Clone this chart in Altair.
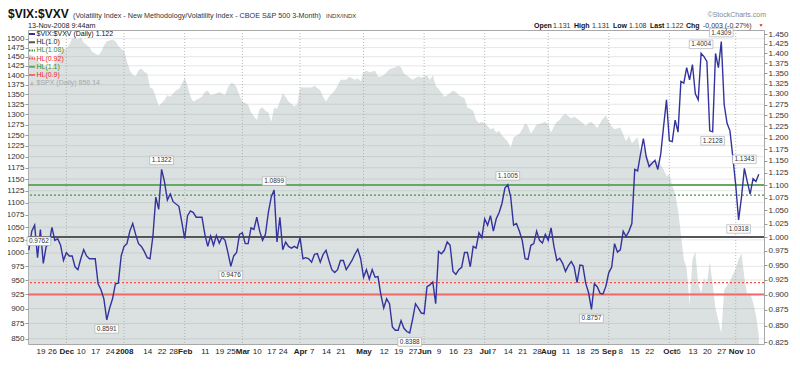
import altair as alt
import pandas as pd

# ---------------- data ----------------
# trading-day index (0 = 13-Nov-2007) and $VIX:$VXV close
ratio_day = [0,1,2,3,4,5,6,7,8,9,10,11,12,13,14,15,16,17,18,19,20,21,23,24,25,26,27,28,29,30,
             31,32,33,34,35,36,37,38,39,40,41,42,43,44,45,46,47,48,49,50,52,53,54,55,56,57,58,60,
             61,62,63,64,65,66,67,68,69,70,71,72,73,74,75,76,77,78,79,80,81,82,83,84,85,86,87,88,
             89,90,91,92,93,94,95,96,97,98,99,100,101,102,103,104,105,106,107,108,109,110,111,112,
             113,114,115,116,117,118,119,120,121,122,123,124,125,126,127,128,129,130,131,132,133,
             134,135,136,137,138,139,140,141,142,143,144,145,146,147,148,149,150,151,152,153,154,
             155,156,157,158,159,160,161,162,163,164,165,166,167,168,169,170,171,172,173,174,175,
             176,177,178,179,180,181,182,183,184,185,186,187,188,189,190,191,192,193,194,195,196,
             197,198,199,200,201,202,203,204,205,206,207,208,209,210,211,212,213,214,215,216,217,
             218,219,220,221,222,223,224,225,226,227,228,229,230,231,232,233,234,235,236,237,238,
             239,240,241,242,243,244,245,246,247,248,249,250,251,252,253]
ratio_val = [0.9762,1.011,1.022,0.963,1.014,0.953,0.983,0.988,1.018,0.994,0.997,0.985,0.958,0.972,
             0.966,0.966,0.947,0.942,0.961,0.977,0.966,0.961,0.961,0.918,0.908,0.893,0.8591,0.878,
             0.893,0.918,0.919,0.966,0.983,0.988,1.011,1.025,1.005,0.988,0.983,0.974,0.963,0.961,
             1.002,1.076,1.052,1.1322,1.107,1.070,1.082,1.067,1.058,1.028,0.997,1.040,1.049,1.046,
             1.037,1.037,1.005,0.983,1.002,0.985,1.003,0.989,1.000,0.994,0.972,0.9476,0.966,0.972,
             1.005,1.008,0.988,0.988,1.017,1.014,1.037,1.011,0.994,1.005,1.046,1.076,1.0899,0.991,
             1.037,0.977,0.991,0.983,0.980,0.983,0.980,0.999,0.961,0.963,0.961,0.955,0.969,0.970,
             0.955,0.969,0.976,0.958,0.942,0.937,0.942,0.958,0.958,0.942,0.950,0.958,0.969,0.978,
             0.961,0.929,0.942,0.926,0.942,0.929,0.930,0.900,0.878,0.893,0.885,0.848,0.843,0.843,
             0.858,0.846,0.841,0.8388,0.860,0.885,0.878,0.870,0.869,0.913,0.916,0.921,0.885,0.974,
             0.970,0.976,0.991,0.985,0.939,0.934,0.942,0.946,0.972,0.972,0.947,0.983,0.980,1.008,
             0.999,1.034,1.022,1.040,1.011,1.034,1.046,1.064,1.094,1.1005,1.076,1.022,1.025,1.011,
             0.994,0.961,0.960,0.985,0.988,1.011,0.994,0.989,1.005,0.994,1.017,0.983,0.958,0.962,
             0.953,0.939,0.949,0.956,0.947,0.920,0.950,0.949,0.919,0.903,0.8757,0.918,0.913,0.902,
             0.901,0.914,0.937,0.946,0.988,0.973,0.977,1.011,1.001,1.011,1.025,1.132,1.129,1.164,
             1.198,1.158,1.138,1.145,1.151,1.132,1.164,1.225,1.286,1.193,1.191,1.239,1.212,1.330,
             1.326,1.364,1.334,1.372,1.300,1.286,1.4004,1.392,1.380,1.215,1.2128,1.400,1.364,1.4309,
             1.275,1.232,1.215,1.158,1.100,1.0318,1.076,1.1343,1.107,1.082,1.113,1.107,1.122]

# S&P 500 close (background area)
spx_day = [0,2,4,6,8,10,11,12,13,14,15,16,17,18,19,21,22,24,25,26,27,29,30,31,32,33,34,35,36,37,
           38,39,40,41,42,43,44,45,47,48,49,50,51,52,53,54,55,56,57,58,60,61,62,63,65,66,67,68,69,
           70,71,72,73,74,75,76,77,79,80,81,82,83,84,85,86,87,88,89,90,92,93,94,95,96,98,99,101,
           102,103,104,106,107,108,110,111,113,114,115,116,117,118,120,121,122,123,124,125,127,
           128,129,130,132,133,135,136,138,139,140,141,142,144,145,147,148,149,151,152,153,154,
           155,156,157,158,160,161,162,163,164,165,166,167,168,170,171,172,173,174,175,176,178,
           179,180,181,182,183,184,185,186,188,189,190,192,193,194,195,197,198,199,200,201,202,
           203,205,207,208,209,211,212,213,215,217,218,220,221,222,223,224,225,226,227,228,229,
           230,231,232,233,234,235,236,237,238,240,241,243,244,245,246,247,248,249,250,251,252,253]
spx_val = [1458,1448,1432,1422,1418,1455,1462,1471,1471,1484,1499,1504,1497,1504,1489,1476,1463,
           1454,1463,1480,1493,1497,1493,1480,1471,1467,1436,1413,1401,1397,1413,1417,1409,1405,
           1368,1364,1344,1320,1336,1348,1344,1352,1360,1364,1376,1393,1372,1344,1332,1336,1344,
           1356,1360,1348,1352,1356,1352,1348,1368,1379,1378,1368,1348,1332,1328,1324,1305,1286,
           1313,1317,1309,1305,1282,1316,1313,1332,1352,1344,1332,1320,1324,1368,1368,1368,1368,
           1372,1360,1344,1332,1344,1360,1372,1388,1388,1396,1388,1392,1384,1408,1412,1408,1412,
           1396,1396,1400,1408,1416,1421,1425,1421,1404,1394,1388,1397,1393,1400,1388,1400,1372,
           1364,1344,1348,1360,1356,1348,1340,1317,1313,1309,1286,1279,1282,1279,1264,1267,1256,
           1260,1249,1242,1235,1220,1245,1253,1264,1279,1271,1253,1264,1275,1279,1282,1275,1256,
           1271,1282,1286,1297,1301,1290,1294,1290,1279,1271,1279,1282,1267,1279,1290,1297,1282,
           1271,1264,1268,1235,1249,1231,1245,1206,1220,1192,1188,1192,1171,1157,1160,1137,1117,
           1085,1036,988,971,906,988,1002,943,927,954,943,983,943,900,859,932,948,960,971,988,999,
           954,922,927,911,889,856]

tick_day = [4,8,13,18,23,28,33,41,46,50,54,61,66,70,74,79,84,88,94,98,103,108,116,123,128,133,
            137,142,147,152,158,161,166,171,176,180,186,191,196,201,205,210,215,222,225,230,235,
            240,245,250]
tick_text = ['19','26','Dec','10','17','24','2008','14','22','28','Feb','11','19','25','Mar','10',
             '17','24','Apr','7','14','21','May','12','19','27','Jun','9','16','23','Jul','7','14',
             '21','28','Aug','11','18','25','Sep','8','15','22','Oct','6','13','20','27','Nov','10']
month_day = [13,33,54,74,94,116,137,158,180,201,222,245]

spx_ticks = [850,875,900,925,950,975,1000,1025,1050,1075,1100,1125,1150,1175,1200,1225,1250,
             1275,1300,1325,1350,1375,1400,1425,1450,1475,1500]
ratio_ticks = [0.825,0.85,0.875,0.9,0.925,0.95,0.975,1.0,1.025,1.05,1.075,1.1,1.125,1.15,1.175,
               1.2,1.225,1.25,1.275,1.3,1.325,1.35,1.375,1.4,1.425,1.45]

peak_day = [0,27,46,70,85,132,166,195,233,240,237,248,246]
peak_val = [0.9762,0.8591,1.1322,0.9476,1.0899,0.8388,1.1005,0.8757,1.4004,1.4309,1.2128,1.1343,1.0318]
peak_side = ['up','down','up','down','up','down','up','down','up','up','down','up','down']

hl_level = [1.0, 1.08, 0.92, 1.1, 0.9]

# ---------------- chart ----------------
W, H = 736, 314
FONT = 'Liberation Sans'
AREA = '#dbe0e0'
LINE = '#33339c'
SPX_LO, SPX_HI = 841.6, 1525

xs = alt.Scale(domain=[-0.3, 254.8], nice=False, zero=False)
spx_scale = alt.Scale(type='log', domain=[SPX_LO, SPX_HI], nice=False)
r_scale = alt.Scale(type='log', domain=[0.822, 1.4616], nice=False)

label_expr = ("[" + ",".join("'%s'" % t for t in tick_text) + "][indexof(["
              + ",".join(str(d) for d in tick_day) + "], datum.value)]")
bold_test = "indexof([" + ",".join(str(d) for d in month_day) + "], datum.value) >= 0"

x_axis = alt.Axis(values=tick_day, labelExpr=label_expr, grid=False, ticks=False, domain=False,
                  labelFontSize=8, labelFont=FONT, labelColor='#222', labelPadding=3,
                  labelAngle=0, labelOverlap=False, labelFlush=False, labelBound=False, title=None,
                  labelFontWeight={"condition": {"test": bold_test, "value": "bold"}, "value": "normal"})
X = alt.X('d:Q', scale=xs, axis=x_axis)

left_axis = alt.Axis(orient='left', values=spx_ticks, format='d', grid=False, domain=False,
                     tickSize=3, tickColor='#999', labelFontSize=8, labelFont=FONT,
                     labelColor='#333', labelPadding=1, labelOverlap=False, title=None)
right_axis = alt.Axis(orient='right', values=ratio_ticks, format='.3f', grid=False, domain=False,
                      tickSize=3, tickColor='#999', labelFontSize=8, labelFont=FONT,
                      labelColor='#333', labelPadding=1, labelOverlap=False, title=None)

spx_df = pd.DataFrame({'d': spx_day, 's': spx_val})
spx_df['b'] = SPX_LO
ratio_df = pd.DataFrame({'d': ratio_day, 'r': ratio_val})
peak_df = pd.DataFrame({'d': peak_day, 'r': peak_val, 'side': peak_side,
                        't': ['%.4f' % v for v in peak_val]})
one = pd.DataFrame({'a': [0]})

layers = []

area = alt.Chart(spx_df).mark_area(color=AREA, opacity=1, interpolate='linear').encode(
    x=X, y=alt.Y('s:Q', scale=spx_scale, axis=left_axis), y2=alt.Y2('b:Q'))
layers.append(area)

grid = alt.Chart(pd.DataFrame({'s': spx_ticks})).mark_rule(
    color='#9aa0a0', opacity=0.32, strokeWidth=0.8).encode(
    y=alt.Y('s:Q', scale=spx_scale, axis=None))
layers.append(grid)

vgrid = alt.Chart(pd.DataFrame({'d': month_day})).mark_rule(
    color='#a8a8a8', strokeDash=[1, 2], strokeWidth=0.8).encode(x=X)
layers.append(vgrid)

hl_style = {1.0: ('#555555', 2.0, [1, 0]), 1.08: ('#3c9a3c', 1.2, [2, 2]),
            0.92: ('#ff4a4a', 1.2, [2, 2]), 1.1: ('#67a867', 2.0, [1, 0]),
            0.9: ('#f06a6a', 2.0, [1, 0])}
for lvl in hl_level:
    c, w, dash = hl_style[lvl]
    layers.append(alt.Chart(pd.DataFrame({'r': [lvl]})).mark_rule(
        color=c, strokeWidth=w, strokeDash=dash).encode(
        y=alt.Y('r:Q', scale=r_scale, axis=None)))

line = alt.Chart(ratio_df).mark_line(color=LINE, strokeWidth=1.4).encode(
    x=X, y=alt.Y('r:Q', scale=r_scale, axis=right_axis))
layers.append(line)

box_path = "M-1,-0.36L1,-0.36L1,0.36L-1,0.36Z"
for side, off in (('up', -9), ('down', 9)):
    sub = peak_df[peak_df.side == side]
    first = sub[sub.d == 0]
    rest = sub[sub.d != 0]
    for part, dx in ((rest, 0), (first, 10)):
        if len(part) == 0:
            continue
        layers.append(alt.Chart(part).mark_point(
            shape=box_path, size=560, filled=True, fill='white', stroke='#b0b0b0',
            strokeWidth=0.7, opacity=1, yOffset=off, xOffset=dx).encode(
            x=X, y=alt.Y('r:Q', scale=r_scale, axis=None)))
        layers.append(alt.Chart(part).mark_text(
            fontSize=6.5, font=FONT, color='#333', dy=off, dx=dx, baseline='middle').encode(
            x=X, y=alt.Y('r:Q', scale=r_scale, axis=None), text='t:N'))

# legend (top-left, inside the plot)
legend = [("$VIX:$VXV (Daily) 1.122", '#111111', LINE, [1, 0]),
          ("HL(1.0)", '#222222', '#555555', [1, 0]),
          ("HL(1.08)", '#2f8f2f', '#3c9a3c', [1.5, 1]),
          ("HL(0.92)", '#ee2b2b', '#ff4a4a', [1.5, 1]),
          ("HL(1.1)", '#2f8f2f', '#67a867', [1, 0]),
          ("HL(0.9)", '#ee2b2b', '#f06a6a', [1, 0])]
STEP = 8.2
for i, (t, tc, lc, dash) in enumerate(legend):
    yy = 4 + STEP * i
    layers.append(alt.Chart(one).mark_rule(color=lc, strokeWidth=2, strokeDash=dash).encode(
        x=alt.value(1), x2=alt.value(7), y=alt.value(yy)))
    layers.append(alt.Chart(one).mark_text(text=t, fontSize=7, font=FONT, color=tc,
                                           align='left', baseline='middle').encode(
        x=alt.value(8.5), y=alt.value(yy)))
yy = 4 + STEP * 6
layers.append(alt.Chart(one).mark_point(shape='triangle-up', filled=True, color='#b9bdbd',
                                        size=22, opacity=1).encode(
    x=alt.value(4), y=alt.value(yy)))
layers.append(alt.Chart(one).mark_text(text="$SPX (Daily) 856.14", fontSize=7, font=FONT,
                                       color='#a8a8a8', align='left', baseline='middle').encode(
    x=alt.value(8.5), y=alt.value(yy)))

# header texts
def txt(s, x, y, size, color='#222', weight='normal', align='left'):
    return alt.Chart(one).mark_text(text=s, fontSize=size, font=FONT, color=color,
                                    fontWeight=weight, align=align,
                                    baseline='alphabetic').encode(x=alt.value(x), y=alt.value(y))

TOP = 22
layers.append(txt("$VIX:$VXV", -20, -12, 12, '#111', 'bold'))
layers.append(txt("(Volatility Index - New Methodology/Volatility Index - CBOE S&P 500 3-Month)",
                  45, -12, 7.2, '#333'))
layers.append(txt("INDX/INDX", 298, -12, 6, '#333'))
layers.append(txt("13-Nov-2008 9:44am", 0, -2, 7.2, '#222'))
layers.append(txt("\u00a9StockCharts.com", W + 2, -13, 7, '#888', align='right'))
pieces = [("Open", 506, 'bold'), ("1.131", 525, 'normal'), ("High", 546, 'bold'),
          ("1.131", 564, 'normal'), ("Low", 585, 'bold'), ("1.108", 601, 'normal'),
          ("Last", 622, 'bold'), ("1.122", 638, 'normal'), ("Chg", 658, 'bold'),
          ("-0.003 (-0.27%)", 675, 'normal')]
for s, x, wgt in pieces:
    layers.append(txt(s, x, -2, 7, '#111' if wgt == 'bold' else '#333', wgt))
layers.append(alt.Chart(one).mark_point(shape='triangle-down', filled=True, color='#d22',
                                        size=10, opacity=1).encode(
    x=alt.value(W - 3), y=alt.value(-4.5)))

chart = alt.layer(*layers).resolve_scale(y='independent').properties(
    width=W, height=H,
    autosize=alt.AutoSizeParams(type='none'),
    padding={'left': 20, 'top': TOP, 'right': 26, 'bottom': 12},
    background='white',
).configure_view(stroke='#a8a8a8', strokeWidth=1)

chart.save("out.html", embed_options={"renderer": "svg", "actions": False})
